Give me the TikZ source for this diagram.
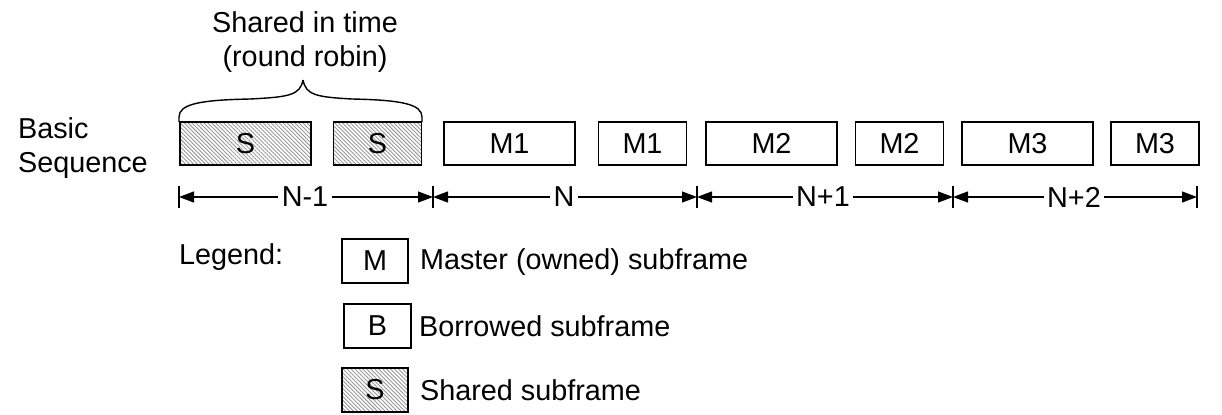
\documentclass[tikz,border=0pt]{standalone}
\usepackage{fontspec}
\setmainfont{Liberation Sans}
\usetikzlibrary{patterns.meta,arrows.meta}
\begin{document}
\begin{tikzpicture}[x=0.5pt,y=-0.5pt,
  every node/.style={font=\fontsize{14.4pt}{17pt}\selectfont},
  frame/.style={draw=black,line width=0.75pt,fill=white,minimum height=21.5pt,inner sep=0pt},
  sbox/.style={frame,fill=gray!8,pattern={Lines[angle=-45,distance=1.4pt,line width=0.45pt]},pattern color=gray!80},
  big/.style={minimum width=65.5pt},
  small/.style={minimum width=44pt},
  tick/.style={line width=0.6pt},
  dimarr/.style={line width=0.6pt,-{Triangle[length=7.5pt,width=5.5pt]}},
  lbl/.style={fill=white,inner sep=1.5pt}
]
\useasboundingbox (0,0) rectangle (1222,414);

% captions
\node[anchor=base,align=center] (cap) at (305,66) {Shared in time\\(round robin)};
\node[anchor=base west,align=left] (basic) at (11,172) {Basic\\Sequence};

% sequence boxes
\fill[white] (179,122) rectangle (312,165);
\node[sbox,big] (s1) at (245.5,143.5) {};
\node at (s1) {S};
\fill[white] (333,122) rectangle (422,165);
\node[sbox,small] (s2) at (377.5,143.5) {};
\node at (s2) {S};
\node[frame,big] (m1a) at (509.5,143.5) {M1};
\node[frame,small] (m1b) at (642.5,143.5) {M1};
\node[frame,big] (m2a) at (771.5,143.5) {M2};
\node[frame,small] (m2b) at (899.5,143.5) {M2};
\node[frame,big] (m3a) at (1027.5,143.5) {M3};
\node[frame,small] (m3b) at (1155,143.5) {M3};

% brace
\coordinate (bl) at (179,122);
\coordinate (br) at (422,122);
\coordinate (bp) at (303,80);
\draw[line width=0.7pt] (bl) -- (179,117) .. controls (179,104) and (200,100) .. (250,99)
  .. controls (290,97) and (300,95) .. (bp);
\draw[line width=0.7pt] (br) -- (422,117) .. controls (422,104) and (401,100) .. (352,99)
  .. controls (316,97) and (306,95) .. (bp);

% dimension line
\coordinate (t0) at (179,197);
\coordinate (t1) at (433,197);
\coordinate (t2) at (697,197);
\coordinate (t3) at (953,197);
\coordinate (t4) at (1197,197);
\foreach \t in {t0,t1,t2,t3,t4}{\draw[tick] (\t) ++(0,-11) -- ++(0,22);}
\node[lbl] (d1) at (305,197) {N-1};
\node[lbl] (d2) at (564,197) {N};
\node[lbl] (d3) at (823,197) {N+1};
\node[lbl] (d4) at (1074,197) {N+2};
\draw[dimarr] (d1.west) -- (t0);
\draw[dimarr] (d1.east) -- (t1);
\draw[dimarr] (d2.west) -- (t1);
\draw[dimarr] (d2.east) -- (t2);
\draw[dimarr] (d3.west) -- (t2);
\draw[dimarr] (d3.east) -- (t3);
\draw[dimarr] (d4.west) -- (t3);
\draw[dimarr] (d4.east) -- (t4);

% legend
\node[anchor=west] (leg) at (172,257) {Legend:};
\node[frame,minimum width=33pt,minimum height=22pt] (lm) at (375,261) {M};
\node[frame,minimum width=33.5pt,minimum height=22pt] (lb) at (377.5,326) {B};
\fill[white] (342,368) rectangle (408,412);
\node[sbox,minimum width=33pt,minimum height=22pt] (ls) at (375,390) {};
\node at (ls) {S};
\node[anchor=west] (lmt) at (413,262) {Master (owned) subframe};
\node[anchor=west] (lbt) at (412,326) {Borrowed subframe};
\node[anchor=west] (lst) at (413,390) {Shared subframe};
\end{tikzpicture}
\end{document}
